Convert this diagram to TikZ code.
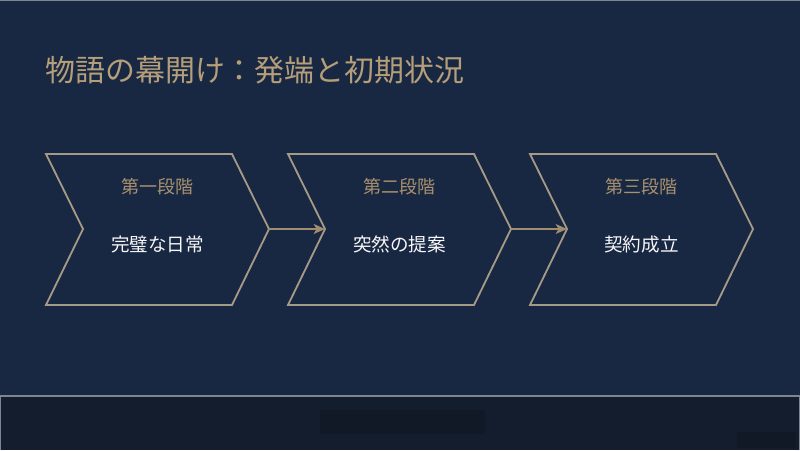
\documentclass[tikz,border=0pt]{standalone}
\usepackage{fontspec}
\newfontfamily\jpfont{Noto Sans CJK JP}
\usepackage{tikz}
\usetikzlibrary{arrows.meta}

\definecolor{bgnavy}{HTML}{182742}
\definecolor{panelnavy}{HTML}{141D2E}
\definecolor{paneldark}{HTML}{111927}
\definecolor{edgegray}{HTML}{7D868F}
\definecolor{chevline}{HTML}{A59A86}
\definecolor{arrowtan}{HTML}{A08C6E}
\definecolor{titletan}{HTML}{B59E7A}
\definecolor{stagetan}{HTML}{A8916E}

\tikzset{
  chevron/.style={draw=chevline, line width=1.3pt, line join=miter},
  stagelabel/.style={text=stagetan, font=\jpfont\fontsize{12.8}{15}\selectfont, inner sep=0pt},
  desclabel/.style={text=white!94!gray, font=\jpfont\fontsize{13.2}{16}\selectfont, inner sep=0pt},
  flow/.style={draw=arrowtan, line width=1.3pt, -{Stealth[length=8pt, width=7pt, inset=2pt]}}
}

\begin{document}
\begin{tikzpicture}[x=0.025cm, y=-0.025cm]

\useasboundingbox (0,0) rectangle (800,450);
\fill[bgnavy] (0,0) rectangle (800,450);
\draw[edgegray, line width=0.8pt] (0,0.5) -- (800,0.5);

% title
\node[anchor=west, text=titletan, inner sep=0pt,
  font=\jpfont\fontsize{21.3}{25}\selectfont] (title) at (45,70) {物語の幕開け：発端と初期状況};

% stage 1
\draw[chevron] (46,154) -- (232,154) -- (269,229) coordinate (tip-1) -- (232,305) -- (46,305)
  -- (83,229) coordinate (notch-1) -- cycle;
\node[stagelabel] (stage-1) at (157.5,187) {第一段階};
\node[desclabel] (desc-1) at (157.5,244) {完璧な日常};

% stage 2
\draw[chevron] (288,154) -- (474,154) -- (511,229) coordinate (tip-2) -- (474,305) -- (288,305)
  -- (325,229) coordinate (notch-2) -- cycle;
\node[stagelabel] (stage-2) at (399.5,187) {第二段階};
\node[desclabel] (desc-2) at (399.5,244) {突然の提案};

% stage 3
\draw[chevron] (530,154) -- (716,154) -- (753,229) coordinate (tip-3) -- (716,305) -- (530,305)
  -- (567,229) coordinate (notch-3) -- cycle;
\node[stagelabel] (stage-3) at (641.5,187) {第三段階};
\node[desclabel] (desc-3) at (641.5,244) {契約成立};

% links
\draw[flow] (tip-1) -- (notch-2);
\draw[flow] (tip-2) -- (notch-3);

% bottom panel
\fill[panelnavy] (0,396) rectangle (800,450);
\draw[edgegray, line width=1.2pt] (0.5,450) -- (0.5,396) -- (799.5,396) -- (799.5,450);
\fill[paneldark] (320,410) rectangle (485,434);
\fill[paneldark] (737,432) rectangle (796,448);

\end{tikzpicture}
\end{document}
